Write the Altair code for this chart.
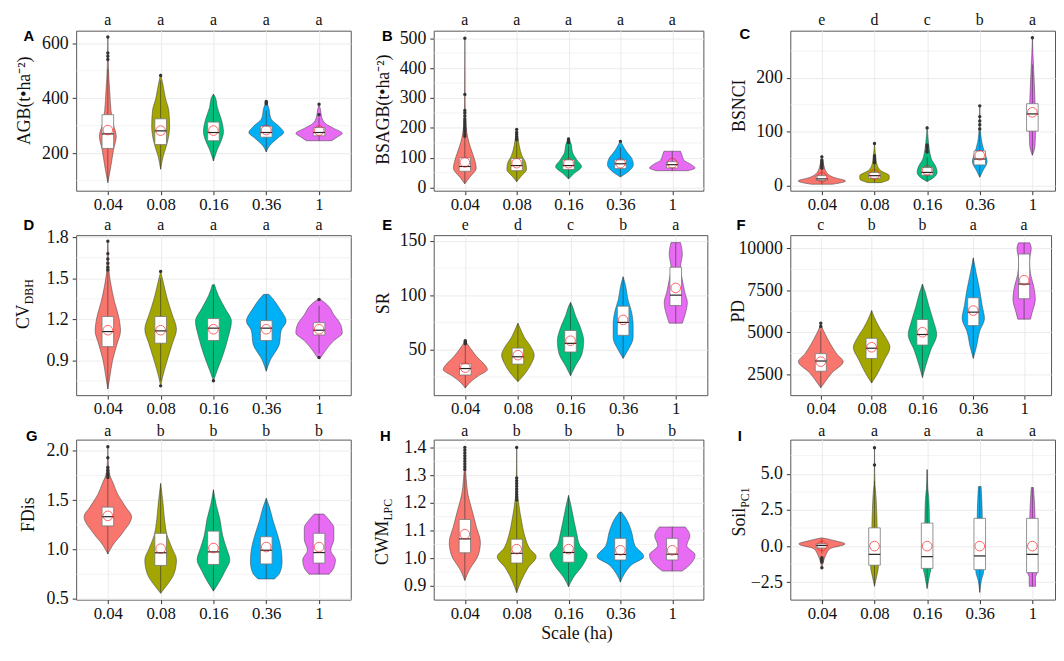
import altair as alt
import pandas as pd

SCALES = ["0.04", "0.08", "0.16", "0.36", "1"]
COLORS = ["#F8766D", "#A3A500", "#00BF7D", "#00B0F6", "#E76BF3"]
SERIF = "Liberation Serif, Times New Roman, serif"
SANS = "Liberation Sans, Arial, sans-serif"

# ---------------- A: AGB ----------------
AGB_violin = [
    [(91, 0), (155, .06), (214, .11), (261, .16), (307, .10), (354, .06), (413, .04), (471, .02), (518, .01), (623, 0)],
    [(141, 0), (190, .05), (237, .125), (296, .17), (354, .155), (401, .09), (448, .045), (489, 0)],
    [(171, 0), (214, .075), (249, .155), (278, .19), (319, .155), (366, .075), (401, .04), (415, 0)],
    [(204, 0), (226, .06), (255, .22), (275, .33), (296, .25), (325, .09), (366, .045), (389, 0)],
    [(245, .24), (258, .34), (272, .44), (290, .28), (307, .125), (331, .05), (360, .025), (378, 0)],
]
AGB_q1 = [217, 231, 245, 258, 263]
AGB_med = [270, 281, 275, 275, 275]
AGB_q3 = [340, 325, 313, 298, 293]
AGB_wlo = [97, 141, 171, 204, 245]
AGB_whi = [506, 465, 415, 355, 330]
AGB_mean = [284, 282, 282, 284, 282]
AGB_out = [[541, 553, 565, 623], [483], [], [380, 384, 388], [340, 378]]
AGB_letters = ["a", "a", "a", "a", "a"]

# ---------------- B: BSAGB ----------------
BSAGB_violin = [
    [(13, 0), (34, .09), (66, .22), (87, .2), (119, .14), (151, .08), (183, .04), (226, .015), (289, .005), (500, 0)],
    [(20, 0), (39, .09), (61, .19), (82, .175), (108, .1), (140, .05), (167, .025), (194, 0)],
    [(29, 0), (45, .09), (71, .25), (93, .16), (119, .075), (146, .05), (167, 0)],
    [(36, 0), (50, .125), (77, .25), (98, .22), (119, .125), (140, .05), (158, 0)],
    [(57, .31), (66, .44), (77, .37), (93, .22), (108, .19), (122, .16)],
]
BSAGB_q1 = [55, 57, 61, 64, 66]
BSAGB_med = [71, 74, 74, 80, 77]
BSAGB_q3 = [100, 98, 93, 93, 87]
BSAGB_wlo = [13, 20, 29, 36, 57]
BSAGB_whi = [168, 155, 140, 135, 122]
BSAGB_mean = [85, 82, 82, 82, 82]
BSAGB_out = [[172, 180, 188, 195, 200, 207, 215, 222, 230, 240, 250, 258, 312, 500],
             [160, 165, 170, 178, 185, 195], [150, 158, 163], [155], []]
BSAGB_letters = ["a", "a", "a", "a", "a"]

# ---------------- C: BSNCI ----------------
BSNCI_violin = [
    [(2, .2), (8, .45), (15, .22), (24, .09), (36, .04), (50, .01), (56, 0)],
    [(5, .125), (12, .28), (18, .28), (27, .125), (38, .05), (56, .02), (80, 0)],
    [(7, 0), (12, .09), (24, .19), (36, .16), (47, .09), (62, .05), (80, .025), (110, 0)],
    [(15, 0), (27, .06), (44, .14), (62, .09), (80, .04), (110, .01), (148, 0)],
    [(56, 0), (74, .05), (110, .06), (157, .05), (216, .025), (246, .01), (275, 0)],
]
BSNCI_q1 = [9, 13, 19, 38, 101]
BSNCI_med = [12, 18, 24, 49, 133]
BSNCI_q3 = [18, 24, 33, 64, 152]
BSNCI_wlo = [2, 5, 7, 15, 56]
BSNCI_whi = [30, 40, 53, 100, 225]
BSNCI_mean = [15, 20, 28, 56, 136]
BSNCI_out = [[32, 35, 38, 41, 44, 47, 53], [42, 45, 48, 51, 55, 78],
             [62, 65, 70, 73, 75, 107], [105, 113, 120, 128, 148], [275]]
BSNCI_letters = ["e", "d", "c", "b", "a"]

# ---------------- D: CV_DBH ----------------
CV_violin = [
    [(0.69, 0), (0.784, .04), (0.90, .09), (1.02, .175), (1.115, .24), (1.21, .21), (1.33, .125), (1.45, .06), (1.54, .025), (1.66, .01), (1.776, 0)],
    [(0.713, 0), (0.784, .04), (0.90, .125), (1.02, .22), (1.127, .3), (1.233, .22), (1.35, .125), (1.47, .05), (1.55, 0)],
    [(0.75, 0), (0.83, .075), (0.95, .19), (1.07, .28), (1.186, .34), (1.28, .22), (1.375, .09), (1.453, .02)],
    [(0.82, 0), (0.90, .075), (1.02, .25), (1.115, .28), (1.186, .375), (1.28, .25), (1.35, .125), (1.382, .05)],
    [(0.92, .03), (0.973, .125), (1.044, .28), (1.10, .44), (1.16, .41), (1.233, .28), (1.304, .16), (1.344, .03)],
]
CV_q1 = [1.0, 1.025, 1.045, 1.045, 1.085]
CV_med = [1.11, 1.115, 1.135, 1.135, 1.12]
CV_q3 = [1.22, 1.22, 1.205, 1.19, 1.175]
CV_wlo = [0.69, 0.75, 0.78, 0.82, 0.95]
CV_whi = [1.55, 1.5, 1.45, 1.38, 1.3]
CV_mean = [1.12, 1.12, 1.127, 1.127, 1.127]
CV_out = [[1.56, 1.58, 1.61, 1.64, 1.68, 1.77], [0.713, 1.55], [0.75], [], [0.92, 1.344]]
CV_letters = ["a", "a", "a", "a", "a"]

# ---------------- E: SR ----------------
SR_violin = [
    [(14.8, 0), (20, .09), (26, .25), (31.8, .42), (37.7, .34), (43.5, .22), (49.4, .125), (55.3, .04), (58.2, 0)],
    [(20.7, 0), (27.4, .125), (37.7, .26), (45, .31), (52.3, .25), (61.1, .125), (70, .04), (74.3, 0)],
    [(26, 0), (34.8, .09), (46.5, .22), (58.2, .25), (70, .19), (81.7, .09), (90.5, .03), (93.4, 0)],
    [(42, 0), (49.4, .09), (61.1, .19), (72.9, .19), (84.6, .16), (96.3, .09), (108, .05), (116.9, 0)],
    [(74.3, .125), (81.7, .175), (93.4, .22), (102, .175), (114, .125), (125.6, .09), (137.4, .125), (148.2, .09)],
]
SR_q1 = [26.8, 36.8, 47.9, 63.2, 90.5]
SR_med = [32.7, 43.5, 55.8, 75, 100]
SR_q3 = [37, 51.5, 67.6, 89.9, 125.6]
SR_wlo = [14.8, 20.7, 26, 42, 74.3]
SR_whi = [54, 74.3, 93.4, 116.9, 148.2]
SR_mean = [33.5, 45, 58.2, 77.3, 106.6]
SR_out = [[55.5, 56.5, 57.5, 58.2], [], [], [], []]
SR_letters = ["e", "d", "c", "b", "a"]

# ---------------- F: PD ----------------
PD_violin = [
    [(1706, 0), (2030, .075), (2600, .22), (3262, .44), (3737, .31), (4306, .19), (4875, .09), (5255, .03), (5540, 0)],
    [(1990, 0), (2600, .125), (3357, .25), (4116, .36), (4685, .28), (5255, .16), (5920, .05), (6300, 0)],
    [(2313, 0), (2977, .06), (3926, .16), (4875, .28), (5635, .22), (6584, .125), (7343, .06), (7874, 0)],
    [(3452, 0), (4116, .06), (5065, .125), (5825, .22), (6584, .175), (7533, .125), (8482, .06), (9430, 0)],
    [(5787, .125), (6204, .16), (6963, .22), (7723, .19), (8482, .125), (9240, .105), (10000, .14), (10323, .11)],
]
PD_q1 = [2693, 3452, 4249, 5407, 7001]
PD_med = [3300, 4060, 4875, 6204, 7874]
PD_q3 = [3737, 4650, 5767, 7058, 9658]
PD_wlo = [1706, 1990, 2313, 3452, 5787]
PD_whi = [5100, 6300, 7874, 9430, 10323]
PD_mean = [3262, 4116, 5008, 6299, 8102]
PD_out = [[5350, 5540], [], [], [], []]
PD_letters = ["c", "b", "b", "a", "a"]

# ---------------- G: FDis ----------------
FDis_violin = [
    [(0.955, 0), (1.042, .09), (1.17, .28), (1.333, .45), (1.43, .34), (1.558, .19), (1.687, .09), (1.75, .04), (1.88, .01), (2.04, 0)],
    [(0.558, 0), (0.62, .09), (0.75, .25), (0.897, .3), (1.01, .22), (1.14, .125), (1.30, .075), (1.494, .04), (1.67, 0)],
    [(0.58, 0), (0.655, .09), (0.784, .22), (0.897, .31), (1.01, .25), (1.14, .175), (1.30, .125), (1.46, .05), (1.606, 0)],
    [(0.703, .155), (0.768, .26), (0.88, .3), (1.01, .28), (1.14, .22), (1.30, .125), (1.43, .06), (1.52, 0)],
    [(0.752, .19), (0.816, .28), (0.897, .31), (0.994, .22), (1.106, .28), (1.22, .28), (1.30, .19), (1.36, .09)],
]
FDis_q1 = [1.24, 0.84, 0.85, 0.855, 0.864]
FDis_med = [1.333, 0.968, 0.977, 0.994, 0.97]
FDis_q3 = [1.43, 1.165, 1.187, 1.13, 1.165]
FDis_wlo = [0.955, 0.558, 0.58, 0.703, 0.752]
FDis_whi = [1.71, 1.67, 1.606, 1.52, 1.36]
FDis_mean = [1.342, 1.01, 1.016, 1.026, 1.026]
FDis_out = [[1.73, 1.75, 1.77, 1.80, 1.83, 1.93, 2.04], [], [], [], []]
FDis_letters = ["a", "b", "b", "b", "b"]

# ---------------- H: CWM_LPC ----------------
CWM_violin = [
    [(0.92, 0), (0.954, .075), (1.012, .26), (1.058, .3), (1.115, .22), (1.173, .14), (1.23, .06), (1.288, .025), (1.346, .006), (1.40, 0)],
    [(0.876, 0), (0.92, .09), (0.966, .22), (1.006, .375), (1.035, .25), (1.081, .155), (1.138, .09), (1.196, .04), (1.254, .01), (1.40, 0)],
    [(0.897, 0), (0.93, .09), (0.977, .28), (1.012, .36), (1.046, .22), (1.092, .155), (1.15, .09), (1.196, .04), (1.227, 0)],
    [(0.914, 0), (0.943, .075), (0.977, .22), (1.006, .45), (1.046, .28), (1.092, .22), (1.138, .125), (1.167, .02)],
    [(0.954, .19), (0.977, .34), (1.012, .44), (1.046, .28), (1.081, .34), (1.113, .25)],
]
CWM_q1 = [1.02, 0.983, 0.986, 0.994, 0.994]
CWM_med = [1.07, 1.018, 1.021, 1.014, 1.015]
CWM_q3 = [1.14, 1.069, 1.078, 1.072, 1.072]
CWM_wlo = [0.92, 0.876, 0.897, 0.914, 0.954]
CWM_whi = [1.31, 1.2, 1.227, 1.167, 1.113]
CWM_mean = [1.087, 1.033, 1.033, 1.029, 1.029]
CWM_out = [[1.32, 1.33, 1.34, 1.35, 1.36, 1.37, 1.38, 1.39, 1.40],
           [1.21, 1.22, 1.23, 1.24, 1.25, 1.26, 1.27, 1.28, 1.29, 1.40], [], [], []]
CWM_letters = ["a", "b", "b", "b", "b"]

# ---------------- I: Soil_PC1 ----------------
Soil_violin = [
    [(-1.5, 0), (-1.06, .03), (-0.62, .075), (-0.18, .155), (0.15, .44), (0.37, .25), (0.53, .06), (0.57, 0)],
    [(-2.78, 0), (-1.94, .05), (-1.39, .075), (-0.62, .05), (1.37, .05), (2.47, .04), (3.35, .03), (4.23, .01), (5.1, .003), (6.87, 0)],
    [(-2.93, 0), (-1.94, .05), (-1.5, .075), (1.37, .045), (2.47, .04), (3.35, .03), (4.0, .012), (5.29, 0)],
    [(-3.2, 0), (-2.38, .03), (-1.72, .075), (0.26, .06), (1.8, .05), (3.13, .04), (4.12, .025)],
    [(-2.78, .06), (-2.16, .06), (-1.83, .09), (0.26, .06), (2.03, .05), (3.57, .03), (4.05, .02)],
]
Soil_q1 = [-0.13, -1.32, -1.54, -1.63, -1.83]
Soil_med = [0.04, -0.57, -0.73, -0.68, -0.57]
Soil_q3 = [0.15, 1.26, 1.59, 1.92, 1.92]
Soil_wlo = [-0.5, -2.78, -2.93, -3.2, -2.78]
Soil_whi = [0.5, 4.5, 5.29, 4.12, 4.05]
Soil_mean = [0, 0, 0, 0, 0]
Soil_out = [[-0.8, -0.9, -1.0, -1.1, -1.5], [5.6, 6.8], [], [], []]
Soil_letters = ["a", "a", "a", "a", "a"]

LABEL_EXPR = "[" + ",".join("'%s'" % s for s in SCALES) + "][round(datum.value)-1]"
H = 162
BOX_HALF = 0.11


def make_panel(tag, violin, q1, med, q3, wlo, whi, mean, out, letters,
               domain, major, minor, fmt, width, xmax, title, sub, title_x, title_y,
               tag_x, tag_y, letter_y, extra=None):
    xs = alt.Scale(domain=[0.4, xmax], nice=False, zero=False)
    ys = alt.Scale(domain=domain, nice=False, zero=False)
    xaxis = alt.Axis(values=[1, 2, 3, 4, 5], labelExpr=LABEL_EXPR, title=None,
                     grid=True, labelPadding=2, labelFlush=False, labelFontSize=17)
    yaxis = alt.Axis(values=major, format=fmt, title=None, grid=True,
                     labelPadding=4, labelFontSize=18)

    def X(f, **kw):
        return alt.X(f, type="quantitative", scale=xs, axis=xaxis, **kw)

    def Y(f):
        return alt.Y(f, type="quantitative", scale=ys, axis=yaxis)

    vrows = []
    for gi, pts in enumerate(violin):
        for v, w in pts:
            vrows.append({"g": gi + 1, "v": v, "w": w})
    vdf = pd.DataFrame(vrows)
    sdf = pd.DataFrame({"g": [1, 2, 3, 4, 5], "q1": q1, "med": med, "q3": q3,
                        "wlo": wlo, "whi": whi, "mean": mean, "lab": letters})
    odf = pd.DataFrame([{"g": gi + 1, "v": v} for gi, vs in enumerate(out) for v in vs])
    mdf = pd.DataFrame({"m": minor})

    layers = []
    layers.append(alt.Chart(mdf).mark_rule(color="#EBEBEB", strokeWidth=0.6).encode(y=Y("m")))
    layers.append(
        alt.Chart(vdf).transform_calculate(lo="datum.g - datum.w", hi="datum.g + datum.w")
        .mark_area(orient="horizontal", interpolate="monotone", stroke="#3a3a3a",
                   strokeWidth=0.5, opacity=1)
        .encode(y=Y("v"), x=X("lo", stack=None), x2=alt.X2("hi"),
                color=alt.Color("g:N", scale=alt.Scale(domain=[1, 2, 3, 4, 5], range=COLORS),
                                legend=None))
    )
    layers.append(alt.Chart(sdf).mark_rule(color="#333333", strokeWidth=0.6)
                  .encode(x=X("g"), y=Y("wlo"), y2=alt.Y2("whi")))
    box = alt.Chart(sdf).transform_calculate(bl="datum.g - %f" % BOX_HALF,
                                             br="datum.g + %f" % BOX_HALF)
    layers.append(box.mark_rect(fill="white", stroke="#777777", strokeWidth=0.8)
                  .encode(x=X("bl"), x2=alt.X2("br"), y=Y("q1"), y2=alt.Y2("q3")))
    layers.append(box.mark_rule(color="#222222", strokeWidth=1.2)
                  .encode(x=X("bl"), x2=alt.X2("br"), y=Y("med")))
    if len(odf):
        layers.append(alt.Chart(odf).mark_circle(color="#333333", size=12, opacity=1)
                      .encode(x=X("g"), y=Y("v")))
    layers.append(alt.Chart(sdf).mark_point(shape="circle", color="#FF2020", filled=False,
                                            size=95, strokeWidth=1)
                  .encode(x=X("g"), y=Y("mean")))
    layers.append(alt.Chart(sdf).mark_text(font=SERIF, fontSize=16, baseline="alphabetic",
                                           color="#111111")
                  .encode(x=X("g"), y=alt.value(letter_y), text="lab:N"))
    layers.append(alt.Chart(pd.DataFrame({"t": [tag]})).mark_text(
        font=SANS, fontSize=15, fontWeight="bold", baseline="middle", align="center",
        color="#000000").encode(x=alt.value(tag_x), y=alt.value(tag_y), text="t:N"))
    if sub:
        layers.append(alt.Chart(pd.DataFrame({"t": [title]})).mark_text(
            font=SERIF, fontSize=18, angle=270, align="right", baseline="middle",
            color="#111111").encode(x=alt.value(title_x), y=alt.value(title_y), text="t:N"))
        layers.append(alt.Chart(pd.DataFrame({"t": [sub]})).mark_text(
            font=SERIF, fontSize=12, angle=270, align="left", baseline="middle",
            color="#111111").encode(x=alt.value(title_x + 5), y=alt.value(title_y), text="t:N"))
    else:
        layers.append(alt.Chart(pd.DataFrame({"t": [title]})).mark_text(
            font=SERIF, fontSize=18, angle=270, align="center", baseline="middle",
            color="#111111").encode(x=alt.value(title_x), y=alt.value(title_y), text="t:N"))
    if extra:
        layers.append(alt.Chart(pd.DataFrame({"t": [extra[0]]})).mark_text(
            font=SERIF, fontSize=18, align="center", baseline="middle", color="#111111")
            .encode(x=alt.value(extra[1]), y=alt.value(extra[2]), text="t:N"))
    return alt.layer(*layers).properties(width=width, height=H)


pA = make_panel("A", AGB_violin, AGB_q1, AGB_med, AGB_q3, AGB_wlo, AGB_whi, AGB_mean, AGB_out,
                AGB_letters, [63, 646], [200, 400, 600], [100, 300, 500], "d", 278, 5.6,
                "AGB(t•ha⁻²)", None, -52, 71, -48, 5, -5.5)
pB = make_panel("B", BSAGB_violin, BSAGB_q1, BSAGB_med, BSAGB_q3, BSAGB_wlo, BSAGB_whi,
                BSAGB_mean, BSAGB_out, BSAGB_letters, [-10, 525], [0, 100, 200, 300, 400, 500],
                [50, 150, 250, 350, 450], "d", 273, 5.6,
                "BSAGB(t•ha⁻²)", None, -50, 80, -47, 5, -5.5)
pC = make_panel("C", BSNCI_violin, BSNCI_q1, BSNCI_med, BSNCI_q3, BSNCI_wlo, BSNCI_whi,
                BSNCI_mean, BSNCI_out, BSNCI_letters, [-10, 288], [0, 100, 200], [50, 150, 250],
                "d", 268, 5.43, "BSNCI", None, -51, 76, -46, 3, -5.5)
pD = make_panel("D", CV_violin, CV_q1, CV_med, CV_q3, CV_wlo, CV_whi, CV_mean, CV_out,
                CV_letters, [0.645, 1.815], [0.9, 1.2, 1.5, 1.8], [0.75, 1.05, 1.35, 1.65], ".1f",
                278, 5.6, "CV", "DBH", -53, 70, -48, -10, -5.5)
pE = make_panel("E", SR_violin, SR_q1, SR_med, SR_q3, SR_wlo, SR_whi, SR_mean, SR_out,
                SR_letters, [8.3, 155], [50, 100, 150], [25, 75, 125], "d", 277, 5.6,
                "SR", None, -50, 69, -47, -10, -5.5)
pF = make_panel("F", PD_violin, PD_q1, PD_med, PD_q3, PD_wlo, PD_whi, PD_mean, PD_out,
                PD_letters, [1270, 10780], [2500, 5000, 7500, 10000], [3750, 6250, 8750], "d",
                264, 5.53, "PD", None, -52, 77, -50, -10, -5.5)
pG = make_panel("G", FDis_violin, FDis_q1, FDis_med, FDis_q3, FDis_wlo, FDis_whi, FDis_mean,
                FDis_out, FDis_letters, [0.494, 2.113], [0.5, 1.0, 1.5, 2.0], [0.75, 1.25, 1.75],
                ".1f", 278, 5.6, "FDis", None, -48, 76, -45, -4, -3.5)
pH = make_panel("H", CWM_violin, CWM_q1, CWM_med, CWM_q3, CWM_wlo, CWM_whi, CWM_mean, CWM_out,
                CWM_letters, [0.851, 1.428], [0.9, 1.0, 1.1, 1.2, 1.3, 1.4],
                [0.95, 1.05, 1.15, 1.25, 1.35], ".1f", 273, 5.6,
                "CWM", "LPC", -51, 82, -49, -4, -3.5, extra=("Scale (ha)", 145, 197))
pI = make_panel("I", Soil_violin, Soil_q1, Soil_med, Soil_q3, Soil_wlo, Soil_whi, Soil_mean,
                Soil_out, Soil_letters, [-3.7, 7.36], [-2.5, 0.0, 2.5, 5.0],
                [-1.25, 1.25, 3.75, 6.25], ".1f", 268, 5.43, "Soil", "PC1", -51, 69, -51, -4, -3.5)

chart = alt.concat(pA, pB, pC, pD, pE, pF, pG, pH, pI, columns=3,
                   spacing={"row": 45, "column": 84}, bounds="flush", align="none").properties(
    padding={"left": 6, "top": 0, "right": 0, "bottom": 0}
).configure_view(stroke="#555555", strokeWidth=1).configure_axis(
    labelFont=SERIF, labelFontSize=18, labelColor="#111111", tickColor="#333333",
    tickSize=4, domain=False, gridColor="#EBEBEB", gridWidth=1
)

chart.save("out.html", embed_options={"renderer": "svg", "actions": False})
